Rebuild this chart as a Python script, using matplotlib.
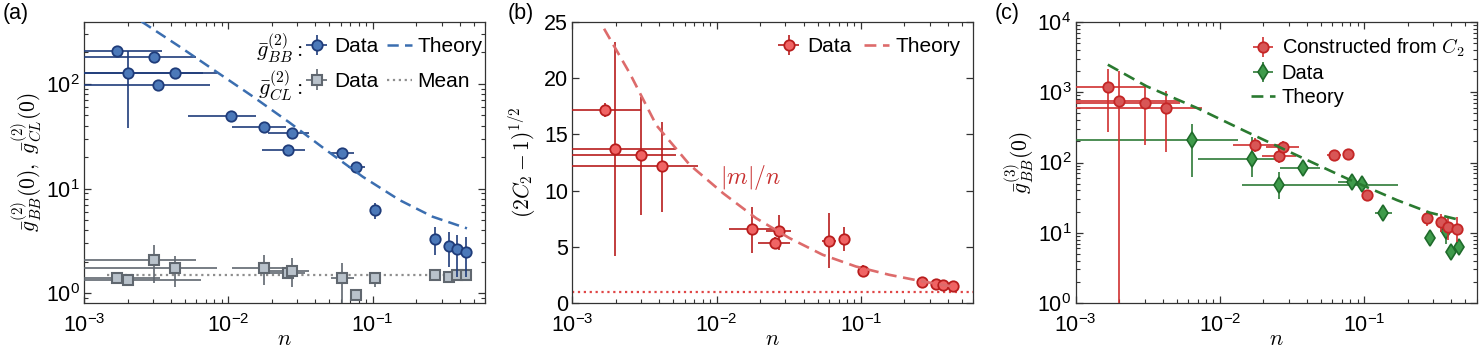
import numpy as np
import matplotlib
matplotlib.use("Agg")
import matplotlib.pyplot as plt
from matplotlib.ticker import LogLocator, FixedLocator, NullFormatter, FuncFormatter, NullLocator

plt.rcParams['font.family'] = ['Liberation Sans', 'DejaVu Sans']
plt.rcParams['mathtext.fontset'] = 'cm'
plt.rcParams['font.size'] = 15

# ---------------- Panel (a) data ----------------
bb_n    = [1.69e-3, 3.03e-3, 2.0e-3, 4.24e-3, 3.27e-3, 1.04e-2, 1.76e-2, 2.74e-2, 2.58e-2, 6.14e-2, 7.71e-2, 0.104, 0.270, 0.340, 0.384, 0.443]
bb_nlo  = [5e-4, 5e-4, 5e-4, 5e-4, 5e-4, 5.27e-3, 1.06e-2, 1.87e-2, 1.71e-2, 5.15e-2, 6.7e-2, 0.104, 0.270, 0.340, 0.384, 0.443]
bb_nhi  = [3.47e-3, 5.98e-3, 6.7e-3, 8.3e-3, 7.48e-3, 1.56e-2, 2.51e-2, 3.61e-2, 3.41e-2, 7.39e-2, 8.8e-2, 0.104, 0.270, 0.340, 0.384, 0.443]
bb_g    = [205, 179, 126, 128, 97, 49.8, 38.5, 34.3, 23.2, 21.9, 16.0, 6.25, 3.33, 2.85, 2.63, 2.48]
bb_glo  = [192, 170, 37.7, 122, 93, 47.5, 36.5, 32.5, 22.0, 20.8, 15.2, 5.13, 2.32, 1.80, 1.44, 1.44]
bb_ghi  = [219, 189, 204, 135, 101, 52, 40.5, 36, 24.4, 23.0, 16.8, 7.35, 4.34, 3.83, 3.60, 3.47]

cl_n    = [1.69e-3, 2.0e-3, 3.03e-3, 4.24e-3, 1.76e-2, 2.58e-2, 2.74e-2, 6.14e-2, 7.71e-2, 0.104, 0.270, 0.340, 0.384, 0.443]
cl_nlo  = [5e-4, 5e-4, 5e-4, 5e-4, 1.06e-2, 1.71e-2, 1.87e-2, 5.15e-2, 7.3e-2, 0.104, 0.270, 0.340, 0.384, 0.443]
cl_nhi  = [3.34e-3, 6.49e-3, 5.98e-3, 8.3e-3, 2.51e-2, 3.41e-2, 3.61e-2, 7.39e-2, 8.1e-2, 0.104, 0.270, 0.340, 0.384, 0.443]
cl_g    = [1.41, 1.34, 2.08, 1.73, 1.76, 1.55, 1.65, 1.39, 0.96, 1.39, 1.49, 1.43, 1.51, 1.51]
cl_glo  = [1.41, 1.34, 1.25, 1.16, 1.20, 1.50, 1.16, 0.5, 0.86, 1.16, 1.49, 1.43, 1.51, 1.51]
cl_ghi  = [1.41, 1.34, 2.90, 2.28, 2.32, 1.60, 2.16, 1.94, 1.08, 1.61, 1.49, 1.43, 1.51, 1.51]

bb_theory_n = [2.5e-3, 4.59e-3, 8.24e-3, 1.48e-2, 2.65e-2, 4.75e-2, 8.53e-2, 0.153, 0.260, 0.45]
bb_theory_g = [394, 227, 131, 75.7, 42.8, 23.4, 13.0, 7.8, 5.4, 4.18]

cl_mean_n = [1.45e-3, 0.45]
cl_mean_g = [1.5, 1.5]

# ---------------- Panel (b) data ----------------
b_n    = [1.68e-3, 1.98e-3, 3.01e-3, 4.19e-3, 1.75e-2, 2.53e-2, 2.71e-2, 6.04e-2, 7.59e-2, 0.103, 0.264, 0.330, 0.372, 0.431]
b_nlo  = [5e-4, 5e-4, 5e-4, 5e-4, 1.22e-2, 1.92e-2, 2.2e-2, 5.4e-2, 7.59e-2, 0.103, 0.264, 0.330, 0.372, 0.431]
b_nhi  = [3.01e-3, 5.26e-3, 5.26e-3, 7.43e-3, 2.52e-2, 3.2e-2, 3.3e-2, 6.7e-2, 7.59e-2, 0.103, 0.264, 0.330, 0.372, 0.431]
b_v    = [17.16, 13.67, 13.14, 12.19, 6.54, 5.38, 6.42, 5.53, 5.68, 2.81, 1.86, 1.72, 1.57, 1.54]
b_vlo  = [16.56, 4.14, 7.84, 8.10, 4.44, 4.85, 4.70, 3.11, 4.60, 2.28, 1.55, 1.45, 1.30, 1.25]
b_vhi  = [17.76, 23.2, 18.3, 16.1, 8.58, 5.85, 7.80, 7.99, 6.80, 3.40, 2.15, 2.00, 1.85, 1.85]

b_theory_n = [1.66e-3, 2.51e-3, 3.83e-3, 6.5e-3, 1.11e-2, 1.88e-2, 3.20e-2, 5.43e-2, 9.22e-2, 0.157, 0.267, 0.454]
b_theory_v = [24.4, 20.4, 15.8, 12.3, 9.76, 7.54, 5.77, 4.29, 3.25, 2.51, 1.92, 1.42]
b_floor = 1.0

# ---------------- Panel (c) data ----------------
c_red_n   = [1.68e-3, 2.0e-3, 3.01e-3, 4.23e-3, 1.76e-2, 2.56e-2, 2.72e-2, 6.17e-2, 7.67e-2, 0.104, 0.270, 0.338, 0.382, 0.439]
c_red_nlo = [5e-4, 5e-4, 5e-4, 5e-4, 1.24e-2, 1.94e-2, 2.1e-2, 5.5e-2, 7.67e-2, 0.104, 0.270, 0.338, 0.382, 0.439]
c_red_nhi = [3.02e-3, 5.28e-3, 5.28e-3, 7.46e-3, 2.61e-2, 3.35e-2, 3.55e-2, 6.9e-2, 7.67e-2, 0.104, 0.270, 0.338, 0.382, 0.439]
c_red_g   = [1190, 753, 706, 605, 177, 123, 167, 126, 133, 34.4, 16.1, 14.1, 12.2, 11.2]
c_red_glo = [273, 0.1, 177, 142, 140, 100, 140, 112, 133, 34.4, 12.5, 10.3, 8.0, 7.5]
c_red_ghi = [2170, 2010, 1257, 1045, 225, 150, 205, 140, 133, 34.4, 20.5, 18.5, 17.0, 16.5]

c_grn_n   = [6.43e-3, 1.67e-2, 2.58e-2, 3.74e-2, 8.17e-2, 9.59e-2, 0.134, 0.285, 0.366, 0.396, 0.453]
c_grn_nlo = [5e-4, 7.08e-3, 1.41e-2, 2.61e-2, 6.6e-2, 9.59e-2, 0.118, 0.285, 0.366, 0.396, 0.453]
c_grn_nhi = [1.34e-2, 2.61e-2, 0.172, 4.93e-2, 1.03e-1, 9.59e-2, 0.155, 0.285, 0.366, 0.396, 0.453]
c_grn_g   = [208, 114, 47.8, 82.4, 53.4, 48.9, 18.9, 8.54, 10.7, 5.28, 6.37]
c_grn_glo = [62.8, 63, 30, 72, 41, 45, 17, 7.6, 7.0, 4.6, 5.6]
c_grn_ghi = [359, 234, 74, 92, 68, 53, 21, 9.6, 15.0, 6.3, 7.3]

c_theory_n = [1.67e-3, 3.1e-3, 6.89e-3, 1.53e-2, 3.4e-2, 7.55e-2, 0.168, 0.285, 0.460]
c_theory_g = [2470, 1217, 600, 273, 127, 59.4, 29.2, 19.3, 15.2]


def errs(v, lo, hi):
    v = np.asarray(v, float)
    return np.vstack([v - np.asarray(lo, float), np.asarray(hi, float) - v])


def logfmt(x, pos):
    e = int(np.round(np.log10(x)))
    return r'$\mathregular{10^{%d}}$' % e


fig = plt.figure(figsize=(14.8, 3.47), dpi=100)
W = 0.2709
axa = fig.add_axes([0.0568, 0.1268, W, 0.8098])
axb = fig.add_axes([0.3867, 0.1268, W, 0.8098])
axc = fig.add_axes([0.7268, 0.1268, W, 0.8098])

spine_col = '#333333'
for ax in (axa, axb, axc):
    ax.set_xscale('log')
    ax.set_xlim(1e-3, 0.6)
    ax.xaxis.set_major_locator(LogLocator(base=10, numticks=10))
    ax.xaxis.set_minor_locator(LogLocator(base=10, subs=np.arange(2, 10), numticks=20))
    ax.xaxis.set_major_formatter(FuncFormatter(logfmt))
    ax.xaxis.set_minor_formatter(NullFormatter())
    ax.tick_params(which='both', direction='in', top=True, right=True, colors=spine_col, labelcolor='black', labelsize=15.5)
    ax.tick_params(which='major', length=5, width=0.9)
    ax.tick_params(which='minor', length=2.8, width=0.8)
    ax.tick_params(axis='x', which='major', pad=8)
    ax.tick_params(axis='y', which='major', pad=3)
    for s in ax.spines.values():
        s.set_color(spine_col)
        s.set_linewidth(0.9)
    ax.set_xlabel(r'$n$', fontsize=16, labelpad=-6)

# ---------- (a) ----------
bb_col_face = '#4c79b9'
bb_col_edge = '#1f3c7a'
cl_face = '#b9c2cb'
cl_edge = '#60676f'

axa.set_yscale('log')
axa.set_ylim(0.81, 390)
axa.yaxis.set_major_formatter(FuncFormatter(logfmt))
axa.yaxis.set_minor_formatter(NullFormatter())
axa.yaxis.set_minor_locator(LogLocator(base=10, subs=np.arange(2, 10), numticks=20))

h_mean, = axa.plot(cl_mean_n, cl_mean_g, ':', color='#8e8e8e', lw=1.6, zorder=1)
h_cl = axa.errorbar(cl_n, cl_g, xerr=errs(cl_n, cl_nlo, cl_nhi), yerr=errs(cl_g, cl_glo, cl_ghi),
                    fmt='s', ms=7.5, mfc=cl_face, mec=cl_edge, mew=1.5, ecolor=cl_edge, elinewidth=1.2,
                    capsize=0, zorder=3)
h_bb = axa.errorbar(bb_n, bb_g, xerr=errs(bb_n, bb_nlo, bb_nhi), yerr=errs(bb_g, bb_glo, bb_ghi),
                    fmt='o', ms=7.5, mfc=bb_col_face, mec=bb_col_edge, mew=1.3, ecolor=bb_col_edge, elinewidth=1.2,
                    capsize=0, zorder=4)
h_th, = axa.plot(bb_theory_n, bb_theory_g, '--', color='#3b6eb0', lw=1.8, dashes=(4.5, 2.5), zorder=5)
axa.set_ylabel(r'$\bar{g}^{(2)}_{BB}(0),\ \bar{g}^{(2)}_{CL}(0)$', fontsize=15.5, labelpad=1)

leg = axa.legend([h_bb, h_cl, h_th, h_mean], ['Data', 'Data', 'Theory', 'Mean'], ncol=2,
                 loc='upper right', bbox_to_anchor=(1.025, 0.99), frameon=False, handlelength=1.2,
                 handletextpad=0.25, columnspacing=0.4, labelspacing=0.75, fontsize=15, borderaxespad=0.2)
axa.text(0.546, 0.905, r'$\bar{g}^{(2)}_{BB}:$', transform=axa.transAxes, ha='right', va='center', fontsize=16)
axa.text(0.546, 0.776, r'$\bar{g}^{(2)}_{CL}:$', transform=axa.transAxes, ha='right', va='center', fontsize=16)

# ---------- (b) ----------
b_face = '#f06464'
b_edge = '#b81d1d'
axb.set_ylim(0, 25)
axb.yaxis.set_major_locator(FixedLocator([0, 5, 10, 15, 20, 25]))
axb.yaxis.set_minor_locator(NullLocator())
axb.axhline(b_floor, ls=':', color='#e04646', lw=1.6, zorder=1)
h_bd = axb.errorbar(b_n, b_v, xerr=errs(b_n, b_nlo, b_nhi), yerr=errs(b_v, b_vlo, b_vhi),
                    fmt='o', ms=7.5, mfc=b_face, mec=b_edge, mew=1.3, ecolor=b_edge, elinewidth=1.2,
                    capsize=0, zorder=4)
h_bt, = axb.plot(b_theory_n, b_theory_v, '--', color='#dd6b6b', lw=1.9, dashes=(4.5, 2.5), zorder=5)
axb.text(1.05e-2, 11.2, r'$|m|/n$', color='#c83030', fontsize=17, ha='left', va='center')
axb.set_ylabel(r'$(2C_2-1)^{1/2}$', fontsize=15.5, labelpad=4)
axb.legend([h_bd, h_bt], ['Data', 'Theory'], ncol=2, loc='upper right', bbox_to_anchor=(1.0, 0.99),
           frameon=False, handlelength=1.2, handletextpad=0.3, columnspacing=0.6, fontsize=15, borderaxespad=0.2)

# ---------- (c) ----------
c_rface = '#d85656'
c_redge = '#c42626'
c_gface = '#3f9b4b'
c_gedge = '#1f6b2b'
axc.set_yscale('log')
axc.set_ylim(1, 1e4)
axc.yaxis.set_major_formatter(FuncFormatter(logfmt))
axc.yaxis.set_minor_formatter(NullFormatter())
axc.yaxis.set_minor_locator(LogLocator(base=10, subs=np.arange(2, 10), numticks=20))

h_cg = axc.errorbar(c_grn_n, c_grn_g, xerr=errs(c_grn_n, c_grn_nlo, c_grn_nhi), yerr=errs(c_grn_g, c_grn_glo, c_grn_ghi),
                    fmt='d', ms=8.5, mfc=c_gface, mec=c_gedge, mew=1.2, ecolor='#2d7a37', elinewidth=1.2,
                    capsize=0, zorder=3)
h_cr = axc.errorbar(c_red_n, c_red_g, xerr=errs(c_red_n, c_red_nlo, c_red_nhi), yerr=errs(c_red_g, c_red_glo, c_red_ghi),
                    fmt='o', ms=7.5, mfc=c_rface, mec=c_redge, mew=1.3, ecolor='#cf3030', elinewidth=1.2,
                    capsize=0, zorder=4)
h_ct, = axc.plot(c_theory_n, c_theory_g, '--', color='#2a7a30', lw=1.9, dashes=(4.5, 2.5), zorder=5)
axc.set_ylabel(r'$\bar{g}^{(3)}_{BB}(0)$', fontsize=15.5, labelpad=1)
axc.legend([h_cr, h_cg, h_ct], [r'Constructed from $C_2$', 'Data', 'Theory'], loc='upper right',
           bbox_to_anchor=(1.0, 0.99), frameon=False, handlelength=1.2, handletextpad=0.35,
           labelspacing=0.25, fontsize=14.5, borderaxespad=0.2)

fig.text(0.002, 0.99, '(a)', fontsize=15.5, ha='left', va='top')
fig.text(0.343, 0.99, '(b)', fontsize=15.5, ha='left', va='top')
fig.text(0.672, 0.99, '(c)', fontsize=15.5, ha='left', va='top')

fig.savefig('out.png', dpi=100)
